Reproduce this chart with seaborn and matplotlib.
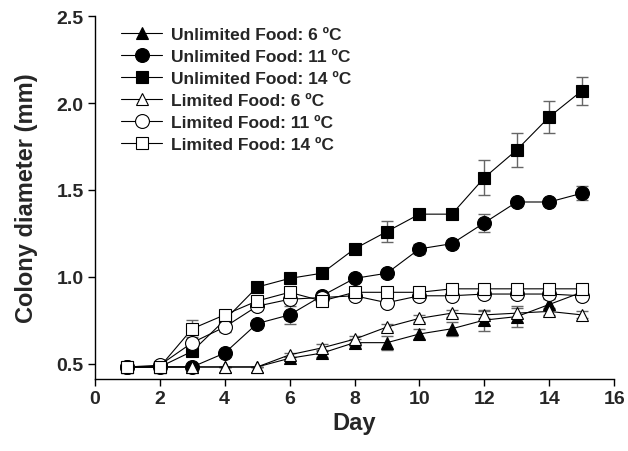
import matplotlib
matplotlib.use("Agg")
import matplotlib.pyplot as plt
import seaborn as sns
import pandas as pd
import numpy as np

days = [1, 2, 3, 4, 5, 6, 7, 8, 9, 10, 11, 12, 13, 14, 15]

unl6 = [0.48, 0.48, 0.48, 0.48, 0.48, 0.53, 0.56, 0.62, 0.62, 0.67, 0.70, 0.75, 0.77, 0.84, 0.91]
unl6_err = [0.0, 0.0, 0.01, 0.0, 0.0, 0.01, 0.02, 0.02, 0.04, 0.03, 0.04, 0.06, 0.06, 0.03, 0.02]
unl11 = [0.48, 0.48, 0.48, 0.56, 0.73, 0.78, 0.89, 0.99, 1.02, 1.16, 1.19, 1.31, 1.43, 1.43, 1.48]
unl11_err = [0.0, 0.0, 0.01, 0.01, 0.02, 0.05, 0.01, 0.01, 0.02, 0.03, 0.01, 0.05, 0.01, 0.01, 0.04]
unl14 = [0.48, 0.48, 0.57, 0.75, 0.94, 0.99, 1.02, 1.16, 1.26, 1.36, 1.36, 1.57, 1.73, 1.92, 2.07]
unl14_err = [0.0, 0.0, 0.02, 0.02, 0.01, 0.01, 0.01, 0.01, 0.06, 0.03, 0.03, 0.10, 0.10, 0.09, 0.08]
lim6 = [0.48, 0.48, 0.48, 0.48, 0.48, 0.55, 0.59, 0.64, 0.71, 0.76, 0.79, 0.78, 0.79, 0.80, 0.78]
lim6_err = [0.0, 0.0, 0.0, 0.0, 0.0, 0.01, 0.02, 0.02, 0.02, 0.02, 0.02, 0.02, 0.03, 0.02, 0.02]
lim11 = [0.48, 0.49, 0.62, 0.71, 0.83, 0.87, 0.88, 0.89, 0.85, 0.89, 0.89, 0.90, 0.90, 0.90, 0.89]
lim11_err = [0.0, 0.01, 0.02, 0.03, 0.02, 0.02, 0.02, 0.02, 0.02, 0.02, 0.02, 0.02, 0.02, 0.02, 0.02]
lim14 = [0.48, 0.48, 0.70, 0.78, 0.86, 0.91, 0.86, 0.91, 0.91, 0.91, 0.93, 0.93, 0.93, 0.93, 0.93]
lim14_err = [0.0, 0.0, 0.05, 0.03, 0.02, 0.02, 0.02, 0.02, 0.02, 0.02, 0.02, 0.02, 0.02, 0.02, 0.02]

labels = ["Unlimited Food: 6 ºC", "Unlimited Food: 11 ºC", "Unlimited Food: 14 ºC",
          "Limited Food: 6 ºC", "Limited Food: 11 ºC", "Limited Food: 14 ºC"]
series = [unl6, unl11, unl14, lim6, lim11, lim14]
errors = [unl6_err, unl11_err, unl14_err, lim6_err, lim11_err, lim14_err]
markers = ["^", "o", "s", "^", "o", "s"]
faces = ["black", "black", "black", "white", "white", "white"]

sns.set_style("white")
plt.rcParams["font.family"] = ["Liberation Sans", "DejaVu Sans"]
plt.rcParams["font.weight"] = "bold"

fig = plt.figure(figsize=(6.28, 4.52), dpi=100)
ax = fig.add_axes([0.151, 0.159, 0.827, 0.803])

for i, (lab, vals, err, mk, fc) in enumerate(zip(labels, series, errors, markers, faces)):
    df = pd.DataFrame({"Day": days, "val": vals})
    ax.errorbar(days, vals, yerr=err, fmt="none", ecolor="0.4", elinewidth=1.0,
                capsize=4, capthick=1.0, zorder=2 + i * 0.1)
    sns.lineplot(data=df, x="Day", y="val", ax=ax, color="black", linewidth=0.8,
                 marker=mk, markersize=9 if mk != "o" else 10, markerfacecolor=fc,
                 markeredgecolor="black", markeredgewidth=0.8, label=lab,
                 zorder=3 + i * 0.1)

ax.set_xlim(0, 16)
ax.set_ylim(0.41, 2.5)
ax.set_xticks(range(0, 17, 2))
ax.set_yticks([0.5, 1.0, 1.5, 2.0, 2.5])
ax.set_yticklabels(["0.5", "1.0", "1.5", "2.0", "2.5"])
ax.set_xlabel("Day", fontsize=17, fontweight="bold", labelpad=3)
ax.set_ylabel("Colony diameter (mm)", fontsize=17, fontweight="bold", labelpad=13)
ax.tick_params(axis="both", direction="out", length=5, width=1, labelsize=14,
               bottom=True, left=True, color="black", pad=3)
for lab in ax.get_xticklabels() + ax.get_yticklabels():
    lab.set_fontweight("bold")
sns.despine(ax=ax)
for s in ["left", "bottom"]:
    ax.spines[s].set_color("black")
    ax.spines[s].set_linewidth(1.0)

leg = ax.legend(loc="upper left", bbox_to_anchor=(0.03, 1.0), frameon=False,
                prop={"weight": "bold", "size": 12.5}, handlelength=2.4,
                labelspacing=0.4, handletextpad=0.5, borderaxespad=0.2)

fig.savefig("out.png", dpi=100)
